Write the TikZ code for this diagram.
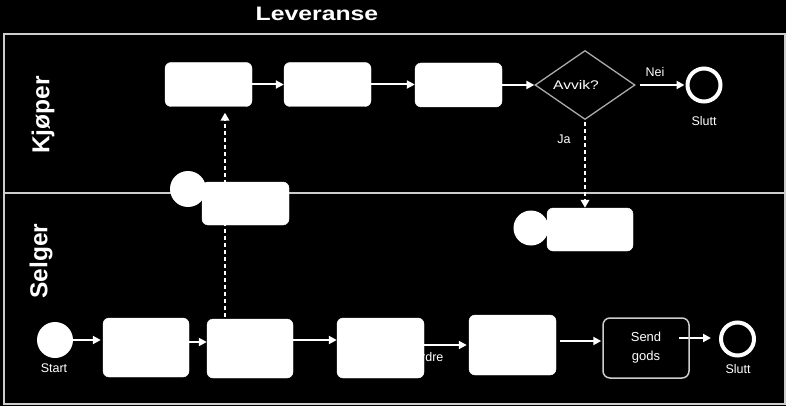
\documentclass[tikz,border=0pt]{standalone}
\usepackage{fontspec}
\setmainfont{Liberation Sans}
\usepackage{graphicx}
\usetikzlibrary{shapes.geometric,arrows.meta,calc}
\pgfdeclarelayer{bg}
\pgfsetlayers{bg,main}
\definecolor{poolc}{RGB}{205,205,205}
\definecolor{diac}{RGB}{170,170,170}
\begin{document}
\begin{tikzpicture}[x=1pt,y=-1pt,
  task/.style={fill=white, draw=white, rounded corners=6pt, minimum width=87pt, minimum height=#1, inner sep=0pt},
  task/.default=44pt,
  flow/.style={draw=white, line width=2pt, -{Triangle[length=8pt,width=8pt]}},
  msgflow/.style={draw=white, line width=2.5pt, dash pattern=on 4pt off 3pt, -{Triangle[length=8pt,width=8.5pt]}},
  lbl/.style={text=white, font=\fontsize{12.5}{12.5}\selectfont, inner sep=0pt},
  lane/.style={text=white, font=\fontsize{24.5}{24.5}\selectfont\bfseries, rotate=90, inner sep=0pt},
  endev/.style={circle, draw=white, line width=4pt, minimum size=33pt, inner sep=0pt},
  startev/.style={circle, fill=white, minimum size=36pt, inner sep=0pt},
  msgcirc/.style={circle, fill=white, minimum size=36pt, inner sep=0pt},
  gateway/.style={diamond, draw=diac, line width=1.3pt, minimum width=100pt, minimum height=69pt, aspect=1.45, inner sep=0pt},
  sendbox/.style={draw=poolc, line width=1.5pt, rounded corners=7pt, minimum width=86pt, minimum height=60pt, inner sep=0pt, text=white, align=center, font=\fontsize{13}{19}\selectfont},
]
\useasboundingbox (0,0) rectangle (786,406);

% title and lanes
\node[text=white, font=\fontsize{19.5}{19.5}\selectfont\bfseries] (title) at (317,14) {\scalebox{1.27}[1]{Leveranse}};
\node[lane] (kjoper) at (43,115) {Kjøper};
\node[lane] (selger) at (41,261) {Selger};

% Kjøper lane
\node[task] (k1) at (208.5,84.5) {};
\node[task] (k2) at (327.5,84.5) {};
\node[task] (k3) at (458.5,85) {};
\node[gateway, label={[lbl, xshift=-9pt]center:\scalebox{1.25}[1]{Avvik?}}] (dia) at (585,85) {};
\node[endev] (endK) at (704,85) {};
\node[lbl] (sluttK) at (704,121) {Slutt};

% message events
\node[msgcirc] (m1c) at (188,189) {};
\node[task=43pt] (m1) at (245.5,203.5) {};
\node[msgcirc, minimum size=35pt] (m2c) at (531,228) {};
\node[task=43pt, minimum width=86pt] (m2) at (590,229.5) {};

% Selger lane
\node[startev] (start) at (55,340) {};
\node[lbl] (startlbl) at (54,368) {Start};
\node[task=59pt, minimum width=86pt] (sA) at (146,347.5) {};
\node[task=59pt, minimum width=86pt] (sB) at (250,348.5) {};
\node[lbl, anchor=west] (ordre) at (421,357) {rdre};
\node[task=60pt] (sC) at (380.5,348) {};
\node[task=60pt] (sD) at (512.5,345) {};
\node[sendbox] (send) at (646,348) {Send\\gods};
\node[endev, minimum size=33pt] (endS) at (737.5,339) {};
\node[lbl] (sluttS) at (738,369) {Slutt};

\node[lbl] (nei) at (655,72) {Nei};
\node[lbl] (ja) at (564,139) {Ja};

\begin{pgfonlayer}{bg}
  \fill[black] (0,0) rectangle (786,406);
  \draw[poolc, line width=2pt] (4,34) rectangle (785,404);
  \draw[poolc, line width=2pt] (4,193) -- (785,193);

  \draw[flow] (k1.east) -- (k1.east -| k2.west);
  \draw[flow] (k2.east) -- (k2.east -| k3.west);
  \draw[flow] (k3.east) -- (k3.east -| dia.west);
  \draw[flow, shorten <=4pt, shorten >=1pt] (dia.east) -- (endK.west);
  \draw[msgflow, shorten <=2pt] (dia.south) -- (dia.south |- m2.north);

  \coordinate (up) at (225,0);
  \draw[msgflow, shorten <=2pt, shorten >=6pt] (sB.north -| up) -- (k1.south -| up);

  \draw[flow, shorten >=2pt] (start.east) -- (start.east -| sA.west);
  \coordinate (a1) at ([yshift=5.5pt]sA.east);
  \draw[flow] (a1) -- (a1 -| sB.west);
  \coordinate (a2) at ([yshift=8.5pt]sB.east);
  \draw[flow] (a2) -- (a2 -| sC.west);
  \coordinate (a3) at ([yshift=3pt]sC.east);
  \draw[flow, shorten >=2pt] (a3) -- (a3 -| sD.west);
  \coordinate (a4) at ([yshift=4pt]sD.east);
  \draw[flow, shorten <=4pt, shorten >=1pt] (a4) -- (a4 -| send.west);
  \coordinate (a5) at ([xshift=-11pt, yshift=10pt]send.east);
  \draw[flow, shorten >=8pt] (a5) -- (a5 -| endS.west);
\end{pgfonlayer}
\end{tikzpicture}
\end{document}
